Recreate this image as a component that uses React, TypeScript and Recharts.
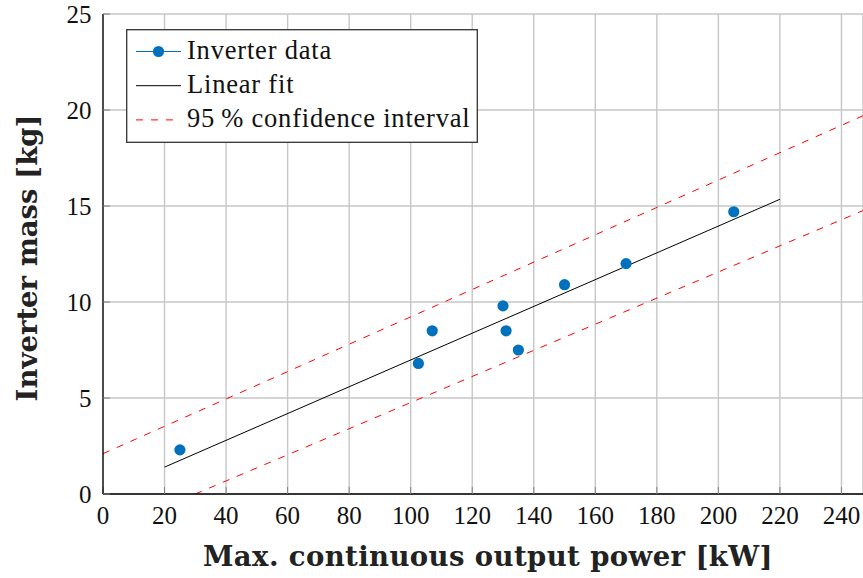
import React from "react";
import {
  ComposedChart,
  Line,
  Scatter,
  XAxis,
  YAxis,
  CartesianGrid,
} from "recharts";

// measured inverters
const powerKW = [25, 102.5, 107, 130, 131, 135, 150, 170, 205];
const massKg = [2.3, 6.8, 8.5, 9.8, 8.5, 7.5, 10.9, 12.0, 14.7];

// linear fit and 95 % band, read at the ends of each line
const fitX = [20, 220];
const fitY = [1.4, 15.35];
const upperX = [0, 247];
const upperY = [2.1, 19.7];
const lowerX = [30, 247];
const lowerY = [0, 14.76];

const xTicks = [0, 20, 40, 60, 80, 100, 120, 140, 160, 180, 200, 220, 240];
const yTicks = [0, 5, 10, 15, 20, 25];

const BLUE = "#0072BD";
const RED = "#ff0000";
const GRID = "#c6c6c6";
const TICK = "#808080";
const tickFont = "Liberation Serif";
const labelFont = "DejaVu Serif";

const zip = (xs: number[], ys: number[]) => xs.map((x, i) => ({ x, y: ys[i] }));

const points = zip(powerKW, massKg);
const fit = zip(fitX, fitY);
const upper = zip(upperX, upperY);
const lower = zip(lowerX, lowerY);

const Dot = (props: any) => <circle cx={props.cx} cy={props.cy} r={5.6} fill={BLUE} />;

const tickStyle = { fontFamily: tickFont, fontSize: 25, fill: "#111" };
const labelStyle = { fontFamily: labelFont, fontWeight: 700, fontSize: 27.5, fill: "#222" };

function LegendBox() {
  const rows = [
    { label: "Inverter data", kind: "data" },
    { label: "Linear fit", kind: "fit" },
    { label: "95\u2009% confidence interval", kind: "ci" },
  ];
  return (
    <svg
      width={352}
      height={114}
      style={{ position: "absolute", left: 126, top: 29, overflow: "visible" }}
    >
      <rect x={0.7} y={0.7} width={350.6} height={112.6} fill="#fff" stroke="#333" strokeWidth={1.3} />
      {rows.map((r, i) => {
        const ly = 22.5 + i * 34.2;
        return (
          <g key={r.label}>
            {r.kind === "data" && (
              <>
                <line x1={10} x2={55} y1={ly} y2={ly} stroke={BLUE} strokeWidth={1} />
                <circle cx={32.5} cy={ly} r={5.6} fill={BLUE} />
              </>
            )}
            {r.kind === "fit" && <line x1={10} x2={55} y1={ly} y2={ly} stroke="#000" strokeWidth={1} />}
            {r.kind === "ci" && (
              <line x1={10} x2={55} y1={ly} y2={ly} stroke={RED} strokeWidth={1} strokeDasharray="7 8" />
            )}
            <text
              x={61}
              y={ly + 7}
              style={{ fontFamily: tickFont, fontSize: 26.5, letterSpacing: 0.8, fill: "#111" }}
            >
              {r.label}
            </text>
          </g>
        );
      })}
    </svg>
  );
}

export default function App() {
  return (
    <div style={{ position: "absolute", left: 0, top: 0, width: 863, height: 578, background: "#fff" }}>
      <ComposedChart width={863} height={578} margin={{ top: 14, right: 0, bottom: 0, left: 0 }}>
        <CartesianGrid stroke={GRID} strokeWidth={1.4} />
        <XAxis
          type="number"
          dataKey="x"
          domain={[0, 247]}
          ticks={xTicks}
          allowDataOverflow
          height={84}
          tickSize={-7}
          tickMargin={19}
          axisLine={{ stroke: "#000", strokeWidth: 1.3 }}
          tickLine={{ stroke: TICK }}
          tick={{ ...tickStyle, style: tickStyle }}
          label={{
            content: (p: any) => {
              const vb = p.viewBox;
              return (
                <text
                  x={vb.x + vb.width / 2 + 5}
                  y={566}
                  textAnchor="middle"
                  style={{ ...labelStyle, letterSpacing: 0.4 }}
                >
                  Max. continuous output power [kW]
                </text>
              );
            },
          }}
        />
        <XAxis
          xAxisId="top"
          orientation="top"
          type="number"
          dataKey="x"
          domain={[0, 247]}
          ticks={xTicks}
          allowDataOverflow
          height={0}
          tickSize={-7}
          axisLine={{ stroke: "#000", strokeWidth: 1.3 }}
          tickLine={{ stroke: TICK }}
          tickFormatter={() => ""}
        />
        <YAxis
          type="number"
          dataKey="y"
          domain={[0, 25]}
          ticks={yTicks}
          allowDataOverflow
          width={103}
          tickSize={-7}
          tickMargin={18.5}
          axisLine={{ stroke: "#000", strokeWidth: 1.3 }}
          tickLine={{ stroke: TICK }}
          tick={{ ...tickStyle, style: tickStyle }}
          label={{
            content: (p: any) => {
              const vb = p.viewBox;
              const cy = vb.y + vb.height / 2 + 4;
              return (
                <text x={37} y={cy} transform={`rotate(-90 37 ${cy})`} textAnchor="middle" style={labelStyle}>
                  Inverter mass [kg]
                </text>
              );
            },
          }}
        />
        <Line
          data={upper}
          dataKey="y"
          type="linear"
          stroke={RED}
          strokeWidth={1}
          strokeDasharray="7 8"
          dot={false}
          activeDot={false}
          isAnimationActive={false}
        />
        <Line
          data={lower}
          dataKey="y"
          type="linear"
          stroke={RED}
          strokeWidth={1}
          strokeDasharray="7 8"
          dot={false}
          activeDot={false}
          isAnimationActive={false}
        />
        <Line
          data={fit}
          dataKey="y"
          type="linear"
          stroke="#000"
          strokeWidth={1}
          dot={false}
          activeDot={false}
          isAnimationActive={false}
        />
        <Scatter data={points} dataKey="y" shape={Dot} isAnimationActive={false} />
      </ComposedChart>
      <LegendBox />
    </div>
  );
}
